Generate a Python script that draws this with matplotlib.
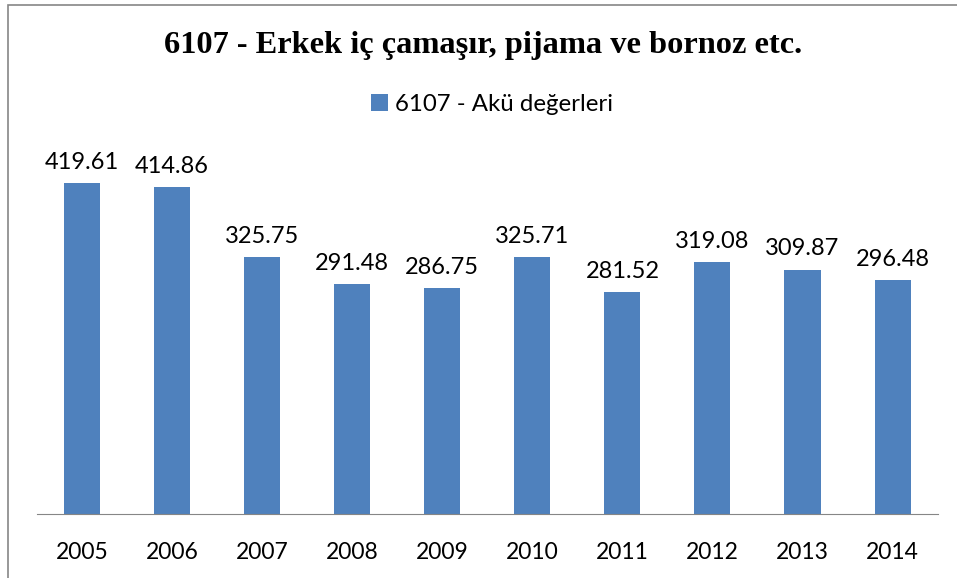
import matplotlib
matplotlib.use("Agg")
import matplotlib.pyplot as plt
from matplotlib.patches import Rectangle

years = ["2005", "2006", "2007", "2008", "2009", "2010", "2011", "2012", "2013", "2014"]
values = [419.61, 414.86, 325.75, 291.48, 286.75, 325.71, 281.52, 319.08, 309.87, 296.48]

plt.rcParams['font.family'] = ['Lato', 'DejaVu Sans']

fig = plt.figure(figsize=(9.57, 5.78), dpi=100)
ax = fig.add_axes([0.0387, 0.1107, 0.941, 0.614])

bars = ax.bar(years, values, width=0.4, color="#4f81bd", label="6107 - Akü değerleri")
for b, v in zip(bars, values):
    ax.text(b.get_x() + b.get_width() / 2, v + 13, f"{v:.2f}", ha="center", va="bottom", fontsize=17)

ax.set_ylim(0, 450)
ax.set_xlim(-0.5, len(years) - 0.5)
ax.set_yticks([])
for s in ["top", "right", "left"]:
    ax.spines[s].set_visible(False)
ax.spines["bottom"].set_color("#868686")
ax.tick_params(axis="x", length=0, labelsize=16.5, pad=20)

fig.text(0.505, 0.922, "6107 - Erkek iç çamaşır, pijama ve bornoz etc.", ha="center", va="center",
         fontsize=23.3, fontweight="bold", family=["Liberation Serif", "DejaVu Serif"])
fig.legend(loc="center", bbox_to_anchor=(0.514, 0.82), frameon=False, fontsize=17.3,
           handlelength=0.7, handleheight=0.7, handletextpad=0.3)

fig.patches.append(Rectangle((8 / 957, -0.01), 1.5, 1 - 5 / 578 + 0.01, transform=fig.transFigure,
                             fill=False, edgecolor="#868686", linewidth=1.2))

fig.savefig("out.png", dpi=100)
